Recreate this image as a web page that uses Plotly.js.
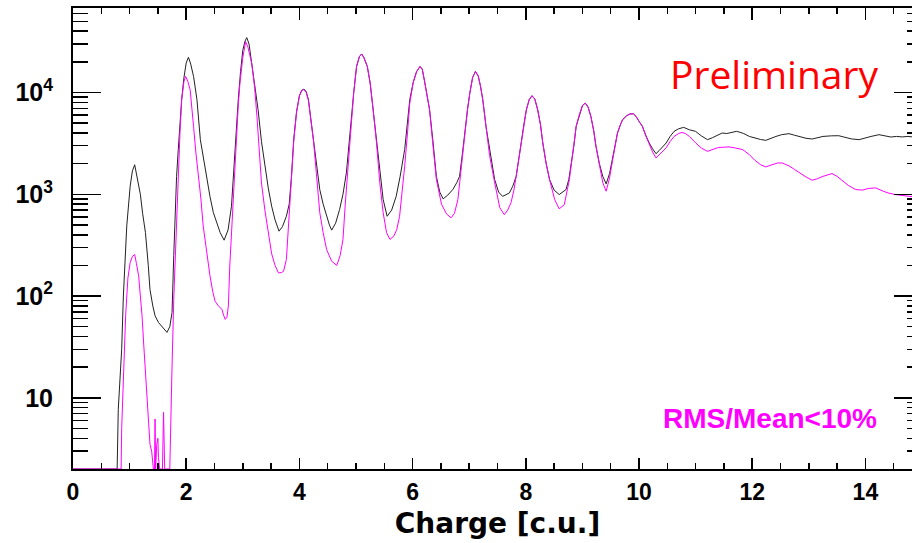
<!DOCTYPE html>
<html>
<head>
<meta charset="utf-8">
<script src="https://cdn.plot.ly/plotly-3.0.1.min.js"></script>
<style>
html,body{margin:0;padding:0;overflow:hidden;background:#fff;width:912px;height:543px;}
#chart{width:960px;height:543px;}
</style>
</head>
<body>
<div id="chart"></div>
<script>
// ---- data ----
const allX = [0,0.78,0.80,0.83,0.86,0.89,0.92,0.95,1.01,1.05,1.09,1.13,1.19,1.23,1.28,1.33,1.36,1.41,1.45,1.51,1.58,1.66,1.71,1.75,1.78,1.80,1.83,1.86,1.89,1.92,1.96,2.00,2.04,2.08,2.13,2.19,2.25,2.31,2.36,2.42,2.48,2.54,2.60,2.67,2.74,2.80,2.83,2.86,2.89,2.92,2.96,3.00,3.04,3.07,3.11,3.16,3.21,3.27,3.33,3.39,3.45,3.51,3.57,3.64,3.70,3.77,3.82,3.86,3.90,3.95,4.00,4.04,4.08,4.12,4.16,4.20,4.25,4.30,4.36,4.42,4.48,4.53,4.57,4.64,4.71,4.77,4.83,4.87,4.92,4.96,5.01,5.06,5.10,5.14,5.20,5.25,5.30,5.36,5.42,5.48,5.55,5.63,5.71,5.78,5.86,5.91,5.95,6.01,6.07,6.13,6.17,6.21,6.26,6.30,6.36,6.42,6.48,6.54,6.62,6.71,6.78,6.83,6.88,6.92,6.97,7.01,7.06,7.11,7.16,7.20,7.24,7.30,7.36,7.45,7.52,7.59,7.65,7.71,7.77,7.83,7.88,7.92,7.97,8.01,8.06,8.11,8.16,8.21,8.26,8.30,8.36,8.42,8.50,8.59,8.65,8.71,8.76,8.80,8.85,8.89,8.95,9.00,9.05,9.10,9.15,9.20,9.24,9.30,9.36,9.42,9.48,9.53,9.58,9.62,9.67,9.71,9.78,9.84,9.90,9.95,10.00,10.06,10.12,10.18,10.24,10.30,10.36,10.42,10.48,10.55,10.62,10.70,10.79,10.89,11.00,11.10,11.21,11.30,11.38,11.47,11.55,11.63,11.72,11.77,11.85,11.95,12.05,12.15,12.24,12.33,12.42,12.52,12.65,12.75,12.85,12.95,13.06,13.15,13.25,13.40,13.53,13.62,13.75,13.89,14.00,14.10,14.24,14.35,14.45,14.55,14.65,14.75,14.85,15.00];
const allY = [2,2,7.7,15,30,100,246,490,1200,1700,1950,1500,1000,650,420,200,116,80,64,55,50,44,50,69,250,608,1500,2750,5000,8500,14000,19500,22200,19000,14400,8500,3440,2100,1393,950,660,520,420,354,447,762,1500,2750,5000,8500,16000,26000,32000,34600,30000,19400,12000,6760,3300,1880,1150,762,560,434,480,608,800,1500,3500,6500,9300,10500,10800,10200,8500,5600,3440,1900,1112,800,608,500,444,520,708,1000,1625,3000,5820,10000,18000,22500,23900,22000,18000,12400,7000,3440,1600,887,608,700,955,1500,2750,5000,8500,12500,16000,18000,17000,13000,9000,6760,3300,1500,1050,901,980,1112,1300,1500,2500,4000,6800,9800,14000,16100,14500,11500,8500,4500,2900,1393,1050,955,990,1030,1200,1500,2300,3440,5000,6760,8500,9290,8600,6760,4800,3200,2000,1393,1100,993,1050,1112,1400,1880,3000,4650,6200,7400,7870,7200,5820,4200,2960,2000,1500,1265,1600,2190,3000,4000,4800,5400,5900,6150,6180,5800,5200,4650,3800,3190,2800,2506,2700,2950,3190,3700,4150,4400,4540,4300,4150,3750,3440,3600,3800,4000,3950,4050,4150,4090,3950,3700,3550,3450,3386,3550,3700,3850,3940,3800,3650,3550,3490,3600,3700,3750,3760,3650,3500,3440,3600,3700,3850,3750,3650,3700,3660,3700,3650,3680];

const cutX = [0,0.85,0.86,0.88,0.91,0.93,0.97,1.01,1.05,1.09,1.12,1.16,1.19,1.22,1.25,1.28,1.31,1.33,1.36,1.39,1.42,1.44,1.45,1.46,1.48,1.50,1.51,1.53,1.58,1.60,1.62,1.71,1.73,1.75,1.78,1.82,1.84,1.86,1.89,1.92,1.96,1.99,2.03,2.07,2.10,2.13,2.17,2.22,2.26,2.30,2.36,2.42,2.47,2.51,2.57,2.63,2.66,2.69,2.72,2.745,2.77,2.80,2.83,2.86,2.89,2.92,2.95,3.00,3.05,3.09,3.16,3.21,3.25,3.29,3.33,3.39,3.45,3.51,3.57,3.63,3.68,3.72,3.77,3.80,3.86,3.90,3.95,4.00,4.04,4.08,4.12,4.16,4.20,4.25,4.30,4.36,4.42,4.48,4.57,4.66,4.72,4.77,4.81,4.86,4.92,4.96,5.01,5.06,5.10,5.14,5.20,5.25,5.30,5.36,5.42,5.48,5.54,5.60,5.67,5.72,5.77,5.82,5.86,5.91,5.95,6.01,6.07,6.13,6.17,6.21,6.26,6.30,6.36,6.42,6.51,6.60,6.68,6.74,6.80,6.86,6.92,6.97,7.01,7.06,7.11,7.16,7.20,7.24,7.30,7.36,7.45,7.54,7.62,7.68,7.74,7.79,7.83,7.88,7.92,7.97,8.01,8.06,8.11,8.16,8.21,8.26,8.30,8.36,8.42,8.51,8.59,8.68,8.77,8.82,8.85,8.89,8.95,9.00,9.05,9.10,9.15,9.20,9.24,9.30,9.36,9.42,9.48,9.53,9.58,9.62,9.67,9.71,9.78,9.84,9.90,9.95,10.00,10.06,10.12,10.18,10.24,10.30,10.36,10.42,10.48,10.55,10.62,10.70,10.76,10.82,10.89,11.00,11.10,11.21,11.30,11.40,11.50,11.59,11.70,11.83,11.95,12.05,12.15,12.24,12.35,12.45,12.53,12.65,12.75,12.83,12.95,13.06,13.15,13.25,13.41,13.50,13.60,13.70,13.83,13.95,14.05,14.18,14.30,14.40,14.53,14.65,14.77,14.90,15.00];
const cutY = [2,2,5,9.7,30,64,150,214,245,256,210,158,100,64,33,16.5,9,5.3,3.5,3.0,2,2,6.2,2,3.5,4,2.6,2,2,7.2,2,2,8,20.6,93,420,900,1880,4000,8500,12800,14400,12800,10600,7500,4650,2600,1500,900,490,260,158,110,89,80,74,65,59,62,80,197,420,887,2000,4000,7500,12400,22000,31600,28000,19000,11000,5820,2800,1294,700,420,260,200,169,170,175,229,450,1300,3300,6400,9200,10400,10700,10000,8300,5500,3300,1600,660,420,287,220,200,250,360,800,1880,5820,10000,18000,22500,23900,22000,18000,12400,7000,3300,1300,660,420,360,390,450,608,1100,1880,4000,7800,12500,16000,18000,17000,13000,9000,6760,3000,1400,800,640,587,650,887,1880,4000,6800,9800,14000,16100,14500,11500,8500,4500,2400,1300,740,631,700,830,1100,1500,2300,3440,5000,6760,8500,9290,8600,6760,4800,3200,2000,1393,887,719,790,1393,2300,3000,4650,6200,7400,7870,7200,5820,4200,2960,1900,1300,1071,1450,2100,3000,4000,4800,5400,5900,6150,6180,5800,5200,4650,3750,3050,2600,2275,2450,2650,2860,3300,3700,3950,4050,3950,3700,3200,2850,2640,2750,2880,2900,2920,2850,2750,2450,2150,1950,1857,1950,2030,2030,1900,1750,1625,1480,1374,1420,1500,1596,1500,1350,1220,1112,1100,1140,1156,1080,1030,993,970,955,945,940];

const xTickVals = [0,2,4,6,8,10,12,14];
const xTickText = ['<b>0</b>','<b>2</b>','<b>4</b>','<b>6</b>','<b>8</b>','<b>10</b>','<b>12</b>','<b>14</b>'];
const yTickVals = [10,100,1000,10000];
const yTickText = ['<b>10</b>','<b>10<sup>2</sup></b>','<b>10<sup>3</sup></b>','<b>10<sup>4</sup></b>'];
const yMinorVals = [3,4,5,6,7,8,9,20,30,40,50,60,70,80,90,200,300,400,500,600,700,800,900,2000,3000,4000,5000,6000,7000,8000,9000,20000,30000,40000,50000,60000];

const yRange = [Math.log10(2), Math.log10(67600)];
const xRange = [0, 15];

const layout = {
  width: 960, height: 543,
  margin: {l:73, r:38, t:8, b:74, pad:0},
  paper_bgcolor:'#fff', plot_bgcolor:'#fff',
  showlegend:false,
  xaxis: {
    range: xRange, showgrid:false, zeroline:false,
    showline:true, linecolor:'#000', linewidth:2,
    ticks:'inside', ticklen:11, tickwidth:1.5, tickcolor:'#000',
    tickmode:'array', tickvals:xTickVals, ticktext:xTickText,
    tickfont: {family:'Liberation Sans, Arial, sans-serif', size:23, color:'#000', weight:'bold'},
    ticklabelstandoff: 1,
    minor: {dtick:0.5, tick0:0, ticks:'inside', ticklen:6, tickwidth:1.5, tickcolor:'#000', showgrid:false},
    title: {text:'Charge [c.u.]', font:{family:'DejaVu Sans, sans-serif', size:28, color:'#000', weight:'bold'}, standoff:10}
  },
  yaxis: {
    type:'log', range: yRange, showgrid:false, zeroline:false,
    showline:true, linecolor:'#000', linewidth:2,
    ticks:'inside', ticklen:28, tickwidth:1.5, tickcolor:'#000',
    tickmode:'array', tickvals:yTickVals, ticktext:yTickText,
    tickfont: {family:'Liberation Sans, Arial, sans-serif', size:25, color:'#000', weight:'bold'},
    ticklabelstandoff: 13,
    minor: {tickmode:'array', tickvals:yMinorVals, ticks:'inside', ticklen:15, tickwidth:1.5, tickcolor:'#000', showgrid:false}
  },
  xaxis2: {
    range: xRange, overlaying:'x', side:'top', anchor:'y2',
    showgrid:false, zeroline:false, showline:true, linecolor:'#000', linewidth:2,
    ticks:'inside', ticklen:12, tickwidth:1.5, tickcolor:'#000',
    tickmode:'array', tickvals:xTickVals, showticklabels:false,
    minor: {dtick:0.5, tick0:0, ticks:'inside', ticklen:6, tickwidth:1.5, tickcolor:'#000', showgrid:false}
  },
  yaxis2: {
    type:'log', range: yRange, overlaying:'y', side:'right', anchor:'x2',
    showgrid:false, zeroline:false, showline:true, linecolor:'#000', linewidth:2,
    ticks:'inside', ticklen:28, tickwidth:1.5, tickcolor:'#000',
    tickmode:'array', tickvals:yTickVals, showticklabels:false,
    minor: {tickmode:'array', tickvals:yMinorVals, ticks:'inside', ticklen:15, tickwidth:1.5, tickcolor:'#000', showgrid:false}
  },
  annotations: [
    {text:'Preliminary', xref:'paper', yref:'paper', x:(668-73)/849, y:(469-73)/461,
     xanchor:'left', yanchor:'middle', showarrow:false,
     font:{family:'Open Sans, sans-serif', size:39, color:'#ff0000'}},
    {text:'<b>RMS/Mean&lt;10%</b>', xref:'paper', yref:'paper', x:(661-73)/849, y:(469-418)/461,
     xanchor:'left', yanchor:'middle', showarrow:false,
     font:{family:'Liberation Sans, Arial, sans-serif', size:28, color:'#ff00ff', weight:'bold'}}
  ]
};

const traces = [
  {x: allX, y: allY, type:'scatter', mode:'lines', line:{color:'#222222', width:1}, xaxis:'x', yaxis:'y', hoverinfo:'skip'},
  {x: cutX, y: cutY, type:'scatter', mode:'lines', line:{color:'#ff00ff', width:1}, xaxis:'x2', yaxis:'y2', hoverinfo:'skip'}
];

Plotly.newPlot('chart', traces, layout, {staticPlot:true, displayModeBar:false});
</script>
</body>
</html>
